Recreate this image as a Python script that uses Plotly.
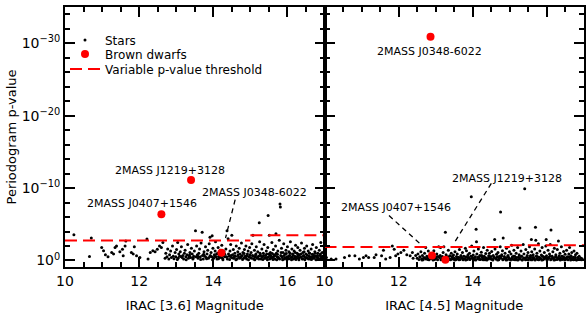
import plotly.graph_objects as go

# ---------------- DATA ----------------
# values are -log10(p) so that 10^-N is plotted at N
LEFT_STARS = [
    (10.24, 3.55), (10.71, 3.1), (10.66, 0.55), (10.99, 1.8), (11.04, 1.35), (11.09, 0.8), (11.16, 0.5),
    (11.26, 1.1), (11.35, 1.8), (11.39, 2.0), (11.31, 0.9), (11.48, 1.2), (11.55, 1.55), (11.64, 2.7),
    (11.62, 2.0), (11.57, 0.65), (11.79, 1.1), (11.84, 0.9), (11.87, 1.9), (11.93, 0.65), (12.02, 0.4),
    (12.21, 2.95), (12.24, 0.2), (12.30, 1.1), (12.37, 1.35), (12.43, 1.2), (12.49, 1.55), (12.55, 2.0),
    (12.60, 1.8), (12.64, 2.5),
    (12.70, 0.3), (12.72, 1.0), (12.75, 0.5), (12.77, 1.6), (12.80, 0.2), (12.82, 0.8), (12.85, 1.3),
    (12.87, 0.4), (12.90, 2.0), (12.92, 0.6), (12.94, 0.25), (12.97, 1.1), (12.99, 0.5), (13.01, 1.5),
    (13.04, 2.5), (13.05, 0.3), (13.07, 0.9), (13.09, 0.6), (13.11, 1.2), (13.14, 1.9), (13.16, 0.4),
    (13.18, 0.7), (13.20, 0.2), (13.22, 1.0), (13.24, 1.4), (13.26, 0.5), (13.29, 0.8), (13.31, 2.2),
    (13.33, 0.3), (13.35, 0.6), (13.37, 1.1), (13.39, 0.4), (13.41, 1.7), (13.43, 0.9), (13.45, 0.2),
    (13.47, 0.6), (13.49, 1.3),
    (13.52, 4.1), (13.53, 0.5), (13.55, 2.0), (13.57, 0.8), (13.59, 0.3), (13.61, 1.0), (13.63, 1.6),
    (13.65, 0.5), (13.67, 2.4), (13.70, 3.9), (13.71, 0.7), (13.73, 0.2), (13.75, 1.2), (13.77, 0.6),
    (13.79, 1.9), (13.81, 0.4), (13.83, 0.9), (13.85, 1.4), (13.87, 0.3), (13.89, 2.3), (13.91, 3.2),
    (13.92, 0.7), (13.94, 1.1), (13.96, 0.5), (13.97, 3.4), (13.99, 1.7),
    (14.01, 0.3), (14.03, 0.8), (14.05, 1.3), (14.06, 2.6), (14.08, 0.5), (14.10, 0.2), (14.12, 1.0),
    (14.13, 1.8), (14.15, 0.6), (14.17, 0.4), (14.19, 1.4), (14.21, 0.9), (14.23, 2.1), (14.25, 0.3),
    (14.27, 0.7), (14.29, 1.2), (14.32, 0.5), (14.34, 1.6), (14.37, 4.1), (14.38, 0.2), (14.40, 3.0),
    (14.41, 0.9), (14.43, 0.6), (14.45, 1.3), (14.47, 2.2), (14.49, 0.4),
    (14.50, 3.5), (14.52, 0.8), (14.54, 1.5), (14.56, 0.3), (14.58, 1.0), (14.60, 0.6), (14.62, 2.0),
    (14.64, 0.2), (14.66, 1.2), (14.68, 0.5), (14.70, 1.7), (14.72, 0.9), (14.74, 0.4), (14.76, 2.4),
    (14.78, 0.7), (14.80, 1.1), (14.82, 0.3), (14.84, 1.5), (14.86, 0.6), (14.88, 2.0), (14.90, 0.2),
    (14.92, 0.9), (14.94, 1.3), (14.96, 0.5), (14.98, 1.8),
    (15.00, 0.4), (15.02, 1.1), (15.04, 2.3), (15.06, 0.7), (15.07, 3.5), (15.09, 0.2), (15.11, 1.4),
    (15.13, 0.5), (15.15, 0.9), (15.16, 1.9), (15.18, 0.3), (15.20, 1.2), (15.22, 0.6), (15.24, 5.2),
    (15.25, 2.6), (15.27, 0.8), (15.29, 0.2), (15.31, 1.6), (15.33, 0.5), (15.35, 1.0), (15.37, 2.2),
    (15.39, 0.3), (15.41, 0.7), (15.43, 1.3), (15.45, 0.4), (15.47, 1.8), (15.48, 6.2), (15.50, 0.9),
    (15.51, 3.5),
    (15.52, 0.2), (15.54, 1.1), (15.56, 0.6), (15.58, 2.5), (15.60, 0.4), (15.62, 1.5), (15.64, 0.8),
    (15.66, 0.2), (15.68, 2.0), (15.69, 3.7), (15.70, 1.0), (15.72, 0.5), (15.74, 1.3), (15.76, 0.3),
    (15.78, 2.8), (15.80, 7.8), (15.81, 7.4), (15.82, 0.7), (15.84, 1.7), (15.86, 0.4), (15.88, 1.1),
    (15.90, 2.3), (15.92, 0.2), (15.94, 0.9), (15.96, 1.4), (15.98, 0.5),
    (16.00, 1.9), (16.02, 0.3), (16.04, 1.2), (16.06, 0.7), (16.08, 2.6), (16.10, 0.4), (16.12, 1.6),
    (16.14, 0.9), (16.16, 0.2), (16.18, 1.3), (16.20, 0.6), (16.22, 2.1), (16.24, 0.4), (16.26, 1.0),
    (16.28, 1.8), (16.30, 0.3), (16.32, 0.8), (16.34, 1.4), (16.36, 0.5), (16.38, 2.4), (16.40, 0.2),
    (16.42, 1.1), (16.44, 0.7), (16.46, 1.7), (16.48, 0.4),
    (16.50, 0.9), (16.52, 2.0), (16.54, 0.3), (16.56, 1.3), (16.58, 0.6), (16.60, 1.0), (16.62, 0.2),
    (16.64, 1.6), (16.66, 0.5), (16.68, 2.2), (16.70, 0.8), (16.72, 0.3), (16.74, 1.2), (16.76, 0.6),
    (16.78, 1.8), (16.80, 0.4), (16.82, 1.0), (16.84, 0.2), (16.86, 1.4), (16.88, 0.7), (16.90, 2.5),
    (16.92, 0.5), (16.94, 1.1), (16.96, 0.3),
    (13.03, 0.15), (13.13, 0.55), (13.27, 0.1), (13.36, 0.75), (13.46, 0.35), (13.58, 0.6), (13.66, 0.15),
    (13.74, 0.85), (13.82, 0.25), (13.90, 0.5), (13.98, 0.1), (14.04, 0.6), (14.09, 0.9), (14.14, 0.25),
    (14.20, 0.45), (14.26, 0.1), (14.31, 0.85), (14.36, 0.5), (14.44, 0.15), (14.48, 0.7), (14.53, 0.35),
    (14.57, 0.6), (14.61, 0.1), (14.67, 0.8), (14.71, 0.3), (14.75, 0.55), (14.79, 0.15), (14.83, 0.95),
    (14.87, 0.4), (14.91, 0.65), (14.95, 0.1), (14.99, 0.8), (15.03, 0.3), (15.08, 0.6), (15.12, 0.1),
    (15.14, 0.75), (15.19, 0.45), (15.23, 0.2), (15.26, 1.0), (15.30, 0.55), (15.34, 0.15), (15.36, 0.7),
    (15.40, 0.35), (15.44, 0.9), (15.46, 0.1), (15.49, 0.5), (15.53, 0.75), (15.55, 0.3), (15.59, 0.95),
    (15.61, 0.15), (15.63, 0.55), (15.67, 0.7), (15.71, 0.1), (15.73, 0.85), (15.75, 0.45), (15.79, 0.2),
    (15.83, 1.1), (15.85, 0.55), (15.87, 0.1), (15.91, 0.7), (15.93, 0.35), (15.97, 0.95), (15.99, 0.15),
    (16.03, 0.6), (16.05, 0.25), (16.07, 1.0), (16.11, 0.1), (16.13, 0.5), (16.15, 0.8), (16.19, 0.3),
    (16.21, 1.1), (16.23, 0.15), (16.27, 0.6), (16.29, 0.85), (16.31, 0.1), (16.35, 0.45), (16.37, 0.9),
    (16.41, 0.25), (16.43, 0.6), (16.45, 1.2), (16.47, 0.1), (16.51, 0.4), (16.53, 0.75), (16.57, 0.2),
    (16.59, 1.05), (16.61, 0.5), (16.65, 0.15), (16.67, 0.85), (16.69, 0.35), (16.73, 0.6), (16.75, 1.0),
    (16.77, 0.1), (16.81, 0.7), (16.83, 0.4), (16.87, 0.15), (16.89, 0.9), (16.91, 0.3), (16.95, 0.6),
]

RIGHT_STARS = [
    (10.05, 0.4), (10.18, 0.2), (10.31, 0.2), (10.54, 0.4), (10.67, 0.65), (10.82, 0.65), (10.94, 0.2),
    (11.05, 0.4), (11.12, 0.65), (11.19, 0.4), (11.34, 0.4), (11.39, 0.8), (11.54, 0.65), (11.59, 1.4),
    (11.65, 0.2), (11.77, 0.4), (11.83, 2.0), (11.88, 1.55), (11.92, 0.65), (11.98, 0.9), (12.06, 1.1),
    (12.14, 1.4), (12.22, 0.8), (12.31, 0.65), (12.37, 1.1), (12.39, 0.3), (12.46, 0.7),
    (12.50, 0.3), (12.52, 0.9), (12.55, 0.15), (12.57, 0.5), (12.60, 1.2), (12.62, 0.25), (12.64, 0.7),
    (12.66, 0.1), (12.68, 0.4), (12.70, 1.0), (12.73, 1.8), (12.74, 0.2), (12.76, 0.6), (12.78, 0.35),
    (12.80, 1.3), (12.82, 0.1), (12.84, 0.5), (12.86, 0.8), (12.88, 0.25), (12.92, 0.45), (12.95, 1.35),
    (12.97, 0.15), (12.99, 0.6), (13.01, 0.3), (13.03, 0.9), (13.05, 0.1), (13.08, 1.9), (13.10, 0.4),
    (13.12, 0.7), (13.13, 1.8), (13.16, 0.2), (13.18, 0.55), (13.20, 1.1), (13.22, 1.9), (13.24, 0.35),
    (13.26, 3.9), (13.28, 0.8), (13.30, 0.15), (13.32, 0.5), (13.34, 1.4), (13.36, 0.25), (13.38, 0.65),
    (13.40, 0.1), (13.42, 1.0), (13.44, 0.4), (13.46, 0.2), (13.48, 0.75),
    (13.50, 0.3), (13.52, 1.2), (13.54, 0.1), (13.56, 0.55), (13.58, 0.9), (13.60, 0.2), (13.62, 0.45),
    (13.64, 1.5), (13.66, 0.15), (13.68, 0.7), (13.70, 0.35), (13.72, 1.1), (13.74, 0.1), (13.76, 0.6),
    (13.78, 0.25), (13.80, 1.7), (13.82, 0.5), (13.83, 1.35), (13.85, 0.15), (13.87, 0.8), (13.89, 0.4),
    (13.91, 1.0), (13.93, 0.2), (13.95, 0.6), (13.96, 8.8), (13.97, 2.0), (13.99, 0.3), (14.01, 0.75),
    (14.03, 1.3), (14.05, 0.1), (14.07, 0.5), (14.09, 4.3), (14.10, 2.6), (14.11, 0.9), (14.13, 0.25),
    (14.15, 1.6), (14.17, 0.4), (14.19, 0.7), (14.21, 0.15), (14.23, 1.15), (14.25, 0.5), (14.27, 0.3),
    (14.29, 1.8), (14.31, 0.6), (14.33, 0.1), (14.35, 0.95), (14.37, 0.35), (14.39, 1.4), (14.41, 0.2),
    (14.43, 0.65), (14.45, 1.0), (14.47, 0.3), (14.49, 0.55),
    (14.51, 1.25), (14.53, 0.15), (14.55, 0.7), (14.57, 0.4), (14.59, 2.9), (14.60, 1.6), (14.62, 0.2),
    (14.64, 0.85), (14.66, 0.5), (14.68, 1.1), (14.70, 0.1), (14.72, 0.6), (14.74, 1.9), (14.75, 6.7),
    (14.76, 0.3), (14.78, 0.8), (14.80, 1.35), (14.82, 3.1), (14.83, 0.2), (14.85, 0.55), (14.87, 1.0),
    (14.89, 0.35), (14.91, 1.7), (14.93, 0.1), (14.95, 0.7), (14.97, 0.4), (14.99, 1.2), (15.01, 0.2),
    (15.03, 0.9), (15.05, 2.1), (15.07, 0.5), (15.09, 0.15), (15.11, 1.4), (15.13, 0.6), (15.15, 0.3),
    (15.17, 1.0), (15.19, 0.1), (15.21, 1.8), (15.23, 0.45), (15.25, 0.8), (15.27, 4.5), (15.28, 0.2),
    (15.30, 1.3), (15.32, 0.6), (15.34, 0.1), (15.36, 2.2), (15.38, 0.9), (15.40, 9.9), (15.41, 0.35),
    (15.43, 1.5), (15.45, 0.15), (15.47, 0.7), (15.49, 1.1),
    (15.51, 0.3), (15.53, 1.9), (15.55, 0.55), (15.57, 0.1), (15.58, 2.9), (15.59, 1.2), (15.61, 0.4),
    (15.63, 0.8), (15.65, 0.2), (15.67, 1.6), (15.69, 4.6), (15.70, 2.8), (15.71, 0.6), (15.73, 1.0),
    (15.75, 0.15), (15.77, 2.3), (15.79, 0.45), (15.81, 1.3), (15.83, 0.25), (15.85, 0.75), (15.87, 1.8),
    (15.89, 0.1), (15.91, 0.5), (15.93, 1.1), (15.95, 0.3), (15.97, 2.0), (15.98, 2.9), (15.99, 0.65),
    (16.01, 0.15), (16.03, 1.4), (16.05, 0.4), (16.07, 0.9), (16.09, 2.2), (16.11, 4.2), (16.12, 0.2),
    (16.14, 0.6), (16.16, 1.2), (16.18, 0.35), (16.20, 1.7), (16.22, 0.1), (16.24, 0.8), (16.26, 0.45),
    (16.28, 1.5), (16.30, 0.2), (16.31, 2.7), (16.33, 0.65), (16.35, 1.0), (16.37, 0.3), (16.39, 1.9),
    (16.41, 0.15), (16.43, 0.55), (16.45, 1.25), (16.47, 0.4), (16.49, 0.85),
    (16.51, 0.2), (16.53, 1.4), (16.55, 0.5), (16.57, 0.1), (16.59, 0.9), (16.61, 1.8), (16.63, 0.3),
    (16.65, 0.65), (16.67, 1.1), (16.69, 0.15), (16.71, 0.45), (16.73, 1.3), (16.75, 0.25), (16.77, 0.8),
    (16.79, 0.1), (16.81, 1.0), (16.83, 0.4), (16.85, 0.2), (16.87, 0.6), (16.89, 0.15), (16.91, 0.35),
    (16.93, 0.1), (16.95, 0.25),
    (12.63, 0.05), (12.71, 0.3), (12.79, 0.15), (12.87, 0.6), (12.93, 0.05), (13.00, 0.35), (13.06, 0.55),
    (13.14, 0.1), (13.19, 0.3), (13.27, 0.05), (13.33, 0.4), (13.39, 0.15), (13.45, 0.6), (13.51, 0.05),
    (13.57, 0.3), (13.63, 0.1), (13.69, 0.5), (13.75, 0.25), (13.81, 0.05), (13.86, 0.4), (13.92, 0.15),
    (13.98, 0.55), (14.04, 0.3), (14.08, 0.05), (14.14, 0.45), (14.18, 0.15), (14.24, 0.7), (14.28, 0.1),
    (14.34, 0.35), (14.38, 0.05), (14.44, 0.5), (14.48, 0.2), (14.54, 0.05), (14.58, 0.45), (14.63, 0.25),
    (14.67, 0.05), (14.71, 0.35), (14.77, 0.6), (14.81, 0.1), (14.86, 0.3), (14.90, 0.05), (14.94, 0.5),
    (14.98, 0.2), (15.02, 0.05), (15.06, 0.35), (15.10, 0.6), (15.14, 0.1), (15.18, 0.4), (15.22, 0.05),
    (15.26, 0.25), (15.29, 0.55), (15.33, 0.05), (15.37, 0.35), (15.42, 0.1), (15.46, 0.5), (15.50, 0.05),
    (15.54, 0.3), (15.56, 0.7), (15.60, 0.1), (15.64, 0.4), (15.68, 0.05), (15.72, 0.25), (15.74, 0.55),
    (15.78, 0.1), (15.82, 0.35), (15.86, 0.05), (15.88, 0.6), (15.92, 0.2), (15.96, 0.45), (16.00, 0.05),
    (16.04, 0.3), (16.08, 0.6), (16.10, 0.1), (16.15, 0.35), (16.19, 0.05), (16.23, 0.5), (16.27, 0.15),
    (16.32, 0.3), (16.36, 0.05), (16.40, 0.6), (16.44, 0.2), (16.48, 0.05), (16.52, 0.35), (16.56, 0.15),
    (16.60, 0.5), (16.64, 0.05), (16.68, 0.3), (16.72, 0.1), (16.76, 0.45), (16.80, 0.05),
]

BD_NAMES = ["2MASS J0407+1546", "2MASS J1219+3128", "2MASS J0348-6022"]
BD_LEFT_MAG = [12.60, 13.40, 14.22]
BD_LEFT_VAL = [6.4, 11.1, 1.07]
BD_RIGHT_MAG = [12.90, 13.26, 12.86]
BD_RIGHT_VAL = [0.7, 0.1, 30.9]

THRESH_LEFT_MAG = [10, 15, None, 15, 17]
THRESH_LEFT_VAL = [2.75, 2.75, None, 3.5, 3.5]
THRESH_RIGHT_MAG = [10, 15, None, 15, 17]
THRESH_RIGHT_VAL = [1.85, 1.85, None, 2.1, 2.1]

Y_TICKS = [0, 10, 20, 30]
Y_TICKTEXT = ["10<sup>0</sup>", "10<sup>\u221210</sup>", "10<sup>\u221220</sup>", "10<sup>\u221230</sup>"]

# ---------------- FIGURE ----------------
FONT = "DejaVu Sans"
fig = go.Figure()

def add_panel(stars, bd_mag, bd_val, th_mag, th_val, xa, ya, show):
    fig.add_trace(go.Scatter(x=[s[0] for s in stars], y=[s[1] for s in stars], mode="markers",
                             marker=dict(size=3, color="black"), name="Stars",
                             xaxis=xa, yaxis=ya, showlegend=show, legend="legend"))
    fig.add_trace(go.Scatter(x=bd_mag, y=bd_val, mode="markers",
                             marker=dict(size=8, color="#ff0000"), name="Brown dwarfs",
                             xaxis=xa, yaxis=ya, showlegend=show, legend="legend2"))
    fig.add_trace(go.Scatter(x=th_mag, y=th_val, mode="lines",
                             line=dict(color="#ff0000", width=2, dash="12px,6px"),
                             name="Variable p-value threshold",
                             xaxis=xa, yaxis=ya, showlegend=show, legend="legend3"))

add_panel(LEFT_STARS, BD_LEFT_MAG, BD_LEFT_VAL, THRESH_LEFT_MAG, THRESH_LEFT_VAL, "x", "y", True)
add_panel(RIGHT_STARS, BD_RIGHT_MAG, BD_RIGHT_VAL, THRESH_RIGHT_MAG, THRESH_RIGHT_VAL, "x2", "y2", False)

# labels and dashed leader lines
labels = [
    ("x", "y", BD_NAMES[1], 12.83, 12.45, None),
    ("x", "y", BD_NAMES[0], 12.08, 7.9, None),
    ("x", "y", BD_NAMES[2], 15.10, 9.36, (14.59, 8.4, 14.33, 3.1)),
    ("x2", "y2", BD_NAMES[2], 12.83, 28.9, None),
    ("x2", "y2", BD_NAMES[0], 11.94, 7.37, (11.74, 6.2, 12.63, 2.07)),
    ("x2", "y2", BD_NAMES[1], 14.93, 11.38, (14.50, 10.65, 13.51, 2.53)),
]
for xa, ya, txt, tx, ty, ln in labels:
    fig.add_annotation(x=tx, y=ty, xref=xa, yref=ya, text=txt, showarrow=False,
                       font=dict(family=FONT, size=11, color="black"))
    if ln:
        fig.add_shape(type="line", xref=xa, yref=ya, x0=ln[0], y0=ln[1], x1=ln[2], y1=ln[3],
                      line=dict(color="black", width=1.3, dash="5px,4px"))

xcommon = dict(range=[10, 17], tick0=10, dtick=2, ticks="inside", ticklen=10, tickwidth=1.5,
               tickcolor="black", minor=dict(tick0=10, dtick=0.5, ticks="inside", ticklen=5,
                                             tickwidth=1.5, tickcolor="black"),
               mirror="allticks", showline=True, linewidth=2, linecolor="black",
               showgrid=False, zeroline=False, automargin=False,
               tickfont=dict(family=FONT, size=14, color="black"))
ycommon = dict(range=[-0.9, 35], tickmode="array", tickvals=Y_TICKS, ticktext=Y_TICKTEXT,
               ticks="inside", ticklen=10, tickwidth=1.5, tickcolor="black",
               minor=dict(tickmode="linear", tick0=0, dtick=2, ticks="inside", ticklen=5,
                          tickwidth=1.5, tickcolor="black"),
               mirror="allticks", showline=True, linewidth=2, linecolor="black",
               showgrid=False, zeroline=False, automargin=False,
               tickfont=dict(family=FONT, size=14, color="black"))

legend_common = dict(x=0.0, xanchor="left", yanchor="middle", bgcolor="rgba(0,0,0,0)",
                     font=dict(family=FONT, size=12, color="black"), itemwidth=30)

fig.update_layout(
    width=586, height=317,
    margin=dict(l=65, r=2, t=7, b=50),
    paper_bgcolor="white", plot_bgcolor="white",
    font=dict(family=FONT, color="black"),
    xaxis=dict(domain=[0, 0.5], anchor="y",
               title=dict(text="IRAC [3.6] Magnitude", font=dict(family=FONT, size=13), standoff=13),
               **xcommon),
    xaxis2=dict(domain=[0.5, 1], anchor="y2",
                title=dict(text="IRAC [4.5] Magnitude", font=dict(family=FONT, size=13), standoff=13),
                **xcommon),
    yaxis=dict(domain=[0, 1], anchor="x",
               title=dict(text="Periodogram p-value", font=dict(family=FONT, size=13), standoff=2),
               **ycommon),
    yaxis2=dict(domain=[0, 1], anchor="x2", showticklabels=False, **ycommon),
    legend=dict(y=0.873, **legend_common),
    legend2=dict(y=0.819, **legend_common),
    legend3=dict(y=0.762, **legend_common),
    showlegend=True,
)

fig.write_html("out.html", config={"displayModeBar": False},
               post_script="document.body.style.margin='0';")
